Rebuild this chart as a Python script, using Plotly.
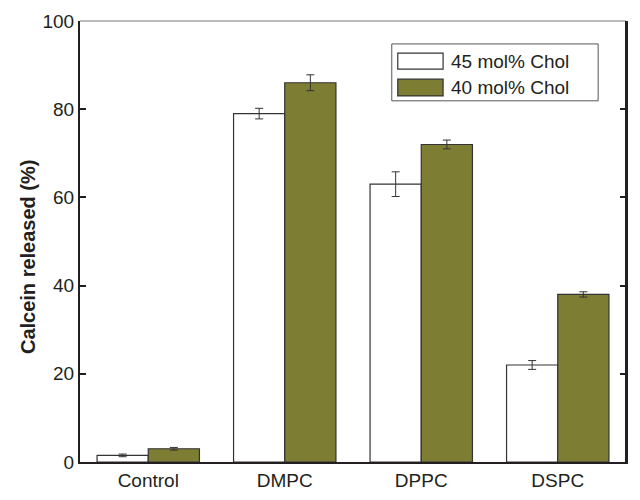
import plotly.graph_objects as go

categories = ["Control", "DMPC", "DPPC", "DSPC"]
chol45 = [1.5, 79, 63, 22]
chol45_err = [0.3, 1.2, 2.8, 1.0]
chol40 = [3.0, 86, 72, 38]
chol40_err = [0.3, 1.8, 1.0, 0.6]
series_names = ["45 mol% Chol", "40 mol% Chol"]

olive = "#7e7d34"
edge = "#333333"
ink = "#231f20"

fig = go.Figure()
fig.add_trace(go.Bar(
    x=categories, y=chol45, name=series_names[0],
    marker=dict(color="white", line=dict(color=edge, width=1.2)),
    error_y=dict(type="data", array=chol45_err, color=edge, thickness=1, width=4),
))
fig.add_trace(go.Bar(
    x=categories, y=chol40, name=series_names[1],
    marker=dict(color=olive, line=dict(color=edge, width=1.2)),
    error_y=dict(type="data", array=chol40_err, color=edge, thickness=1, width=4),
))

# frame: thin gray top, thick right
fig.add_shape(type="line", xref="paper", yref="paper", x0=0, x1=1, y0=1, y1=1,
              line=dict(color="#777777", width=1))
fig.add_shape(type="line", xref="paper", yref="paper", x0=1, x1=1, y0=0, y1=1,
              line=dict(color=ink, width=2))

# hand-drawn legend (large swatches like the original)
fig.add_shape(type="rect", xref="paper", yref="paper", x0=0.571, x1=0.949,
              y0=0.819, y1=0.948, line=dict(color="#555555", width=1),
              fillcolor="white")
sw_y = [(0.891, 0.927), (0.830, 0.868)]
sw_fill = ["white", olive]
for (y0, y1), fill, name in zip(sw_y, sw_fill, series_names):
    fig.add_shape(type="rect", xref="paper", yref="paper", x0=0.582, x1=0.665,
                  y0=y0, y1=y1, line=dict(color=edge, width=1.2), fillcolor=fill)
    fig.add_annotation(xref="paper", yref="paper", x=0.676, y=(y0 + y1) / 2,
                       text=name, showarrow=False, xanchor="left", yanchor="middle",
                       font=dict(size=19, color=ink))

# y axis title
fig.add_annotation(xref="paper", yref="paper", x=-0.095, y=0.465,
                   text="<b>Calcein released (%)</b>", textangle=-90,
                   showarrow=False, xanchor="center", yanchor="middle",
                   font=dict(size=20, color=ink))

# page body has an 8px margin, so the figure is shrunk by that much
fig.update_layout(
    width=632, height=492,
    margin=dict(l=72, r=14, t=13, b=38),
    plot_bgcolor="white", paper_bgcolor="white",
    barmode="group", bargap=0.25, bargroupgap=0,
    font=dict(family="Liberation Sans, Arial, sans-serif", size=19, color=ink),
    showlegend=False,
)
fig.update_xaxes(showline=True, linecolor=ink, linewidth=2, automargin=False,
                 ticks="", showgrid=False)
fig.update_yaxes(range=[0, 100], dtick=20, showline=True, linecolor=ink,
                 linewidth=2, mirror="ticks", ticks="inside", ticklen=6,
                 tickwidth=2, tickcolor=ink, showgrid=False, zeroline=False,
                 automargin=False)

fig.write_html("out.html")
